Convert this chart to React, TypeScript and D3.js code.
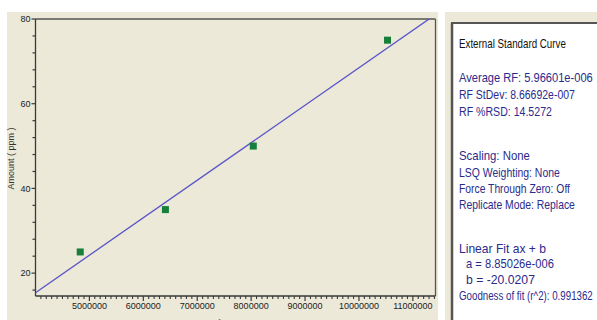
import React, { useLayoutEffect, useRef } from "react";
import * as d3 from "d3";

const areas = [4830000, 6410000, 8040000, 10530000];
const amounts = [25, 35, 50, 75];
const xTickValues = [5000000, 6000000, 7000000, 8000000, 9000000, 10000000, 11000000];
const yTickValues = [20, 40, 60, 80];
const fitSlope = 8.85026e-6;
const fitIntercept = -20.0207;
const xAxisTitle = "Area";
const yAxisTitle = "Amount ( ppm )";
const panelTitle = "External Standard Curve";
const infoLines = [
  { t: "Average RF: 5.96601e-006", y: 77, w: 134, indent: 0 },
  { t: "RF StDev: 8.66692e-007", y: 94, w: 116, indent: 0 },
  { t: "RF %RSD: 14.5272", y: 111, w: 93, indent: 0 },
  { t: "Scaling: None", y: 155, w: 71, indent: 0 },
  { t: "LSQ Weighting: None", y: 172, w: 101, indent: 0 },
  { t: "Force Through Zero: Off", y: 188, w: 111, indent: 0 },
  { t: "Replicate Mode: Replace", y: 204, w: 116, indent: 0 },
  { t: "Linear Fit   ax + b", y: 248, w: 87, indent: 0 },
  { t: "a = 8.85026e-006", y: 263, w: 88, indent: 7 },
  { t: "b = -20.0207", y: 279, w: 69, indent: 7 },
  { t: "Goodness of fit (r^2): 0.991362", y: 295, w: 134, indent: 0 },
];

const W = 597;
const H = 320;
const plot = { left: 35.5, right: 435.5, top: 19, bottom: 296 };

export default function App() {
  const textRefs = useRef<(SVGTextElement | null)[]>([]);
  const x = d3.scaleLinear().domain([4000000, 11420000]).range([plot.left, plot.right]);
  const y = d3.scaleLinear().domain([14.6, 80]).range([plot.bottom, plot.top]);

  const xMinor = d3.range(4100000, 11420000, 100000).filter((v) => v % 1000000 !== 0);
  const yMinor = d3.range(16, 80, 4).filter((v) => v % 20 !== 0);

  const fitX = [4000000, 11420000];
  const line = d3
    .line<number>()
    .x((d) => x(d))
    .y((d) => y(fitSlope * d + fitIntercept));

  const font = "Arial, 'Liberation Sans', sans-serif";
  const axisColor = "#3a3a3a";

  const panelLines = [{ t: panelTitle, y: 43, w: 107, indent: 0, c: "#111" }].concat(
    infoLines.map((l) => ({ ...l, c: "#2b2b8c" }))
  );

  useLayoutEffect(() => {
    textRefs.current.forEach((el, i) => {
      if (!el) return;
      const len = el.getComputedTextLength();
      if (len > 0) {
        const sx = panelLines[i].w / len;
        el.setAttribute("transform", `scale(${sx},1)`);
      }
    });
  });

  return (
    <svg
      width={W}
      height={H}
      style={{ position: "absolute", left: 0, top: 0, background: "#ffffff" }}
    >
      <defs>
        <clipPath id="plotclip">
          <rect x={plot.left} y={plot.top} width={plot.right - plot.left} height={plot.bottom - plot.top} />
        </clipPath>
      </defs>
      {/* left panel */}
      <rect x={7} y={12} width={431} height={H - 12} fill="#ECE9D8" />
      {/* frame */}
      <line x1={plot.left} x2={plot.right} y1={plot.top} y2={plot.top} stroke="#555" strokeWidth={1.3} />
      <line x1={plot.right} x2={plot.right} y1={plot.top} y2={plot.bottom} stroke="#555" strokeWidth={1.3} />
      <line x1={plot.left} x2={plot.left} y1={plot.top} y2={plot.bottom} stroke={axisColor} strokeWidth={1.3} />
      <line x1={plot.left} x2={plot.right} y1={plot.bottom} y2={plot.bottom} stroke={axisColor} strokeWidth={1.3} />

      {/* y ticks */}
      {yMinor.map((v) => (
        <line key={"ym" + v} x1={plot.left - 3} x2={plot.left} y1={y(v)} y2={y(v)} stroke={axisColor} strokeWidth={1.2} />
      ))}
      {yTickValues.map((v) => (
        <g key={"y" + v}>
          <line x1={plot.left - 4} x2={plot.left} y1={y(v)} y2={y(v)} stroke={axisColor} strokeWidth={1.2} />
          <text x={plot.left - 5} y={y(v)} dy="0.35em" textAnchor="end" fontFamily={font} fontSize={9} fill="#222">
            {v}
          </text>
        </g>
      ))}
      {/* x ticks */}
      {xMinor.map((v) => (
        <line key={"xm" + v} x1={x(v)} x2={x(v)} y1={plot.bottom} y2={plot.bottom + 3} stroke={axisColor} strokeWidth={1.1} />
      ))}
      {xTickValues.map((v) => (
        <g key={"x" + v}>
          <line x1={x(v)} x2={x(v)} y1={plot.bottom} y2={plot.bottom + 5} stroke={axisColor} strokeWidth={1.2} />
          <text x={x(v)} y={plot.bottom + 13} textAnchor="middle" fontFamily={font} fontSize={9} fill="#222">
            {v}
          </text>
        </g>
      ))}

      {/* axis titles */}
      <text
        transform={`translate(14, ${(plot.top + plot.bottom) / 2 + 1}) rotate(-90)`}
        textAnchor="middle"
        fontFamily={font}
        fontSize={9}
        fill="#333"
      >
        {yAxisTitle}
      </text>
      <text x={226} y={325} textAnchor="middle" fontFamily={font} fontSize={9} fill="#333">
        {xAxisTitle}
      </text>

      {/* fit line */}
      <path d={line(fitX) || ""} fill="none" stroke="#5a55c8" strokeWidth={1.3} clipPath="url(#plotclip)" />

      {/* points */}
      {areas.map((a, i) => (
        <rect key={"p" + i} x={x(a) - 3.5} y={y(amounts[i]) - 3.5} width={7} height={7} fill="#16803a" />
      ))}

      {/* right panel */}
      <rect x={445} y={12} width={W - 445} height={H - 12} fill="#ECE9D8" />
      <rect x={452} y={23} width={W - 452} height={H - 23} fill="#ffffff" />
      <line x1={452} x2={452} y1={23} y2={H} stroke="#555" strokeWidth={2.5} />
      <line x1={451} x2={W} y1={23} y2={23} stroke="#555" strokeWidth={2} />
      {panelLines.map((l, i) => (
        <g key={"i" + i} transform={`translate(${459 + l.indent}, ${l.y})`}>
          <text
            ref={(el) => {
              textRefs.current[i] = el;
            }}
            x={0}
            y={0}
            dy="0.35em"
            fontFamily={font}
            fontSize={13}
            fill={l.c}
          >
            {l.t}
          </text>
        </g>
      ))}
    </svg>
  );
}
